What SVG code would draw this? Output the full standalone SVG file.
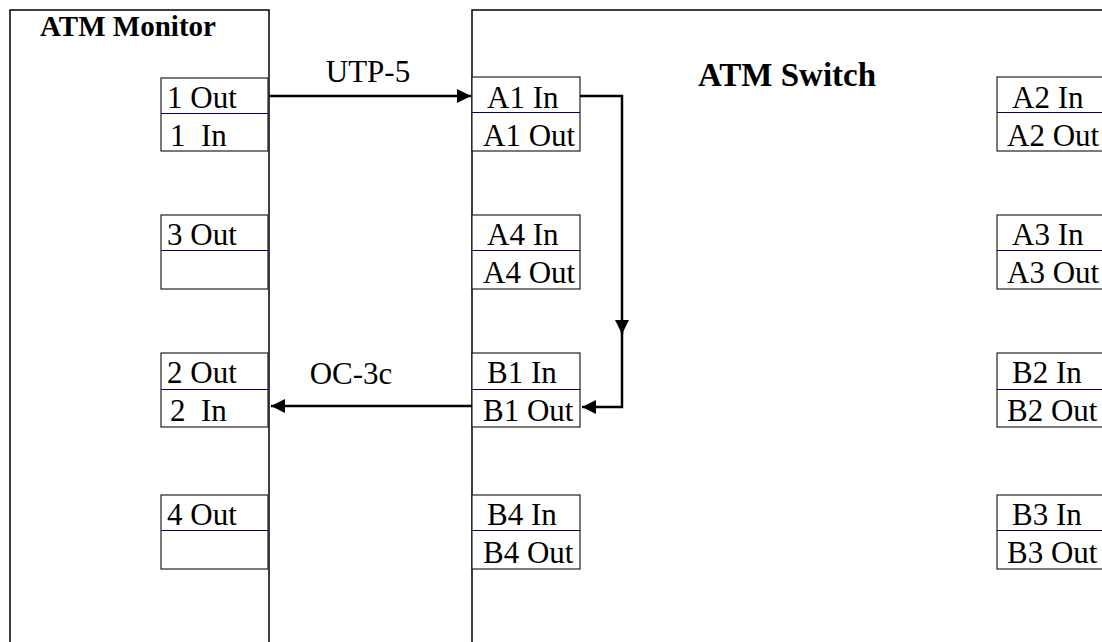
<svg xmlns="http://www.w3.org/2000/svg" width="1102" height="642" viewBox="0 0 1102 642">
<defs>
<style>
.frame{fill:#fff;stroke:#000;stroke-width:1.5}
.port{fill:#fff;stroke:#222;stroke-width:1.2}
.div{stroke:#000070;stroke-width:1}
.t{font-family:"Liberation Serif","Times New Roman",serif;font-size:31px;fill:#000;white-space:pre}
.h{font-family:"Liberation Serif","Times New Roman",serif;font-weight:bold;fill:#000}
.wire{fill:none;stroke:#000;stroke-width:2.5}
</style>
<marker id="ah" viewBox="0 0 10 10" refX="10" refY="5" markerWidth="6" markerHeight="5.6" markerUnits="strokeWidth" orient="auto">
<path d="M0,0 L10,5 L0,10 Z" fill="#000"/>
</marker>
</defs>
<rect width="1102" height="642" fill="#fff"/>
<g id="atm-monitor">
<rect class="frame" x="10" y="10" width="259" height="650"/>
<text class="h" x="128" y="36" font-size="29" text-anchor="middle">ATM Monitor</text>
</g>
<g id="atm-switch">
<rect class="frame" x="472" y="10" width="650" height="650"/>
<text class="h" x="787" y="86" font-size="33" text-anchor="middle">ATM Switch</text>
</g>
<g id="port-1">
<rect class="port" x="161" y="78" width="107" height="73"/>
<line class="div" x1="161" y1="113.5" x2="268" y2="113.5"/>
<text class="t" x="167" y="108">1 Out</text>
<text class="t" x="170" y="146">1  In</text>
</g>
<g id="port-3">
<rect class="port" x="161" y="215" width="107" height="74"/>
<line class="div" x1="161" y1="250.5" x2="268" y2="250.5"/>
<text class="t" x="167" y="245">3 Out</text>
</g>
<g id="port-2">
<rect class="port" x="161" y="353" width="107" height="74"/>
<line class="div" x1="161" y1="389.5" x2="268" y2="389.5"/>
<text class="t" x="167" y="383">2 Out</text>
<text class="t" x="170" y="421">2  In</text>
</g>
<g id="port-4">
<rect class="port" x="161" y="495" width="107" height="74"/>
<line class="div" x1="161" y1="530.5" x2="268" y2="530.5"/>
<text class="t" x="167" y="525">4 Out</text>
</g>
<g id="port-a1">
<rect class="port" x="472" y="77" width="108" height="74"/>
<line class="div" x1="472" y1="112.5" x2="580" y2="112.5"/>
<text class="t" x="487" y="108">A1 In</text>
<text class="t" x="483" y="146">A1 Out</text>
</g>
<g id="port-a4">
<rect class="port" x="472" y="215" width="108" height="74"/>
<line class="div" x1="472" y1="250.5" x2="580" y2="250.5"/>
<text class="t" x="487" y="245">A4 In</text>
<text class="t" x="483" y="283">A4 Out</text>
</g>
<g id="port-b1">
<rect class="port" x="472" y="353" width="108" height="74"/>
<line class="div" x1="472" y1="389.5" x2="580" y2="389.5"/>
<text class="t" x="487" y="383">B1 In</text>
<text class="t" x="483" y="421">B1 Out</text>
</g>
<g id="port-b4">
<rect class="port" x="472" y="495" width="108" height="74"/>
<line class="div" x1="472" y1="530.5" x2="580" y2="530.5"/>
<text class="t" x="487" y="525">B4 In</text>
<text class="t" x="483" y="563">B4 Out</text>
</g>
<g id="port-a2">
<rect class="port" x="997" y="77" width="120" height="74"/>
<line class="div" x1="997" y1="112.5" x2="1102" y2="112.5"/>
<text class="t" x="1012" y="108">A2 In</text>
<text class="t" x="1007" y="146">A2 Out</text>
</g>
<g id="port-a3">
<rect class="port" x="997" y="215" width="120" height="74"/>
<line class="div" x1="997" y1="250.5" x2="1102" y2="250.5"/>
<text class="t" x="1012" y="245">A3 In</text>
<text class="t" x="1007" y="283">A3 Out</text>
</g>
<g id="port-b2">
<rect class="port" x="997" y="353" width="120" height="74"/>
<line class="div" x1="997" y1="389.5" x2="1102" y2="389.5"/>
<text class="t" x="1012" y="383">B2 In</text>
<text class="t" x="1007" y="421">B2 Out</text>
</g>
<g id="port-b3">
<rect class="port" x="997" y="495" width="120" height="74"/>
<line class="div" x1="997" y1="530.5" x2="1102" y2="530.5"/>
<text class="t" x="1012" y="525">B3 In</text>
<text class="t" x="1007" y="563">B3 Out</text>
</g>
<g id="connectors">
<line class="wire" x1="269" y1="96" x2="471" y2="96" marker-end="url(#ah)"/>
<text class="t" x="368" y="82" text-anchor="middle">UTP-5</text>
<path class="wire" d="M580,96 H622 V334" marker-end="url(#ah)"/>
<path class="wire" d="M622,330 V407 H582" marker-end="url(#ah)"/>
<line class="wire" x1="472" y1="406" x2="271" y2="406" marker-end="url(#ah)"/>
<text class="t" x="351" y="384" text-anchor="middle">OC-3c</text>
</g>
</svg>
